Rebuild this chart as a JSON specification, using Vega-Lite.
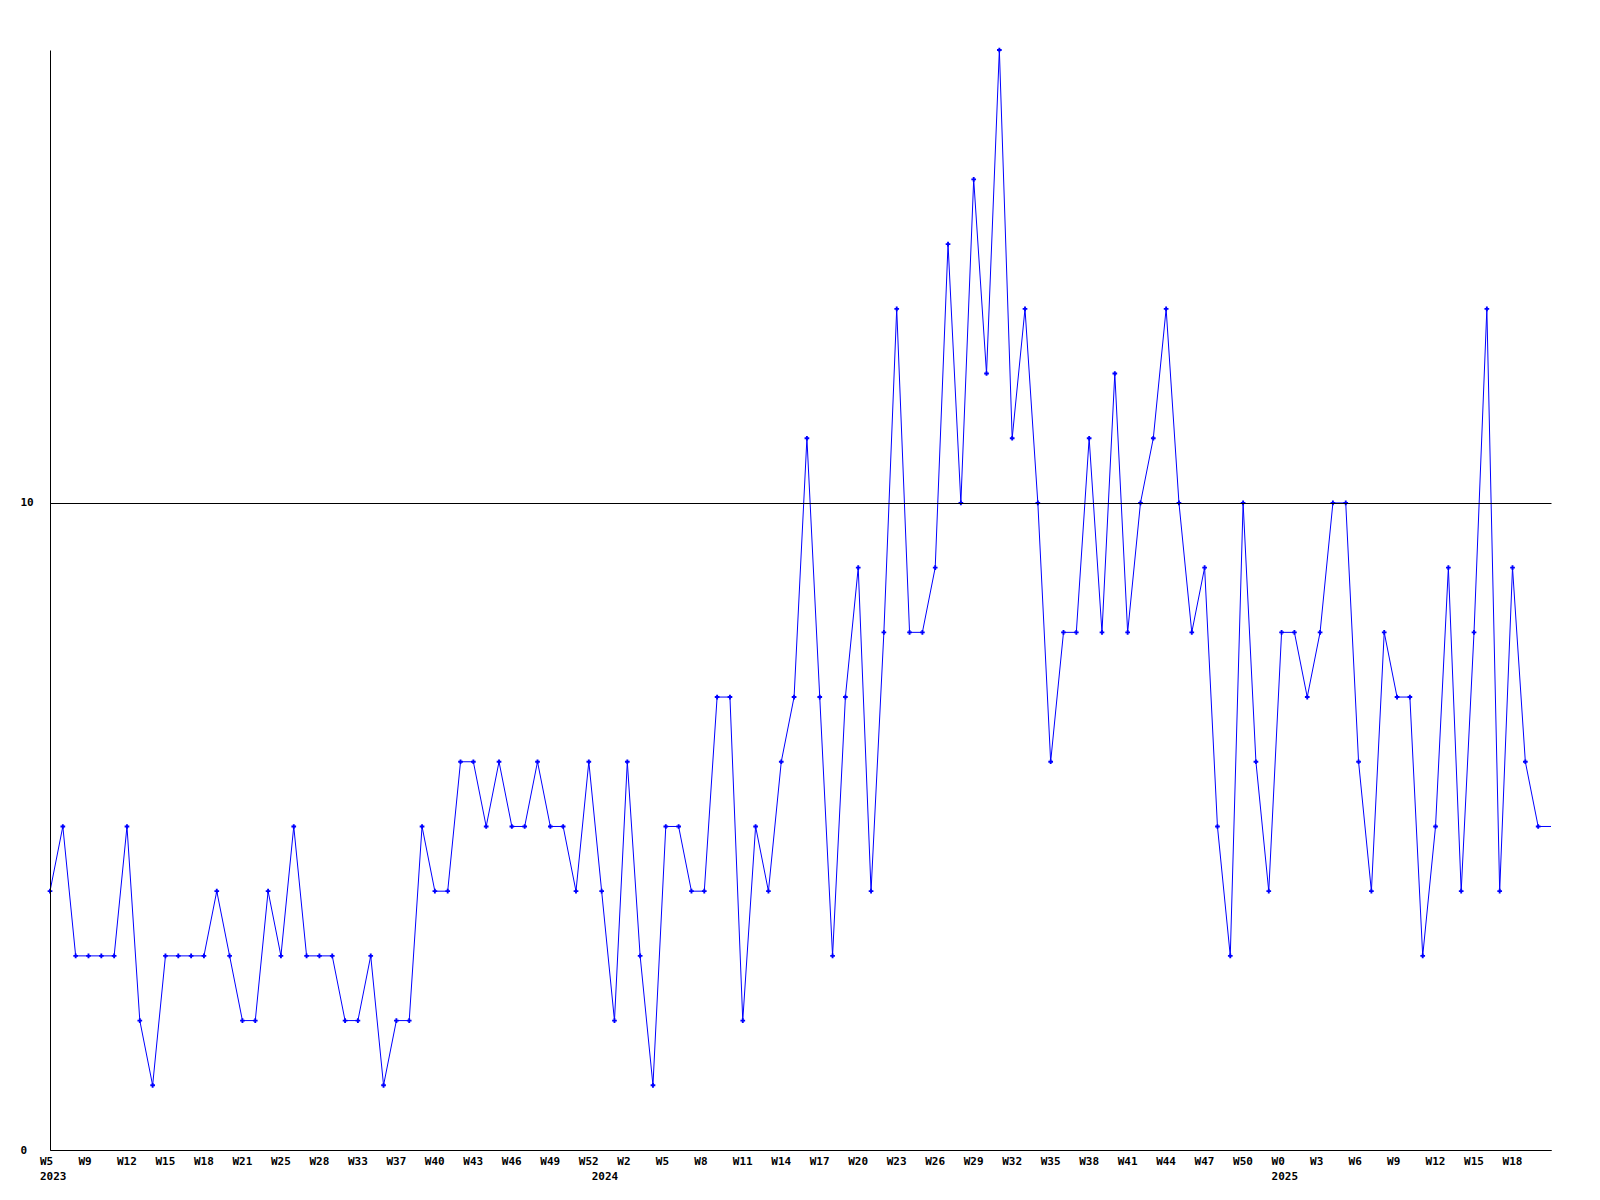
{
  "$schema": "https://vega.github.io/schema/vega-lite/v6.json",
  "width": 1501,
  "height": 1100,
  "autosize": {"type": "none"},
  "padding": {"left": 50, "top": 50, "right": 49, "bottom": 50},
  "background": "white",
  "config": {
    "view": {"stroke": null},
    "axis": {"labelFont": "DejaVu Sans Mono", "labelFontWeight": "bold", "labelFontSize": 11, "labelColor": "black"}
  },
  "data": {"values": [
    {"i":0,"v":4},{"i":1,"v":5},{"i":2,"v":3},{"i":3,"v":3},{"i":4,"v":3},{"i":5,"v":3},{"i":6,"v":5},{"i":7,"v":2},{"i":8,"v":1},{"i":9,"v":3},
    {"i":10,"v":3},{"i":11,"v":3},{"i":12,"v":3},{"i":13,"v":4},{"i":14,"v":3},{"i":15,"v":2},{"i":16,"v":2},{"i":17,"v":4},{"i":18,"v":3},{"i":19,"v":5},
    {"i":20,"v":3},{"i":21,"v":3},{"i":22,"v":3},{"i":23,"v":2},{"i":24,"v":2},{"i":25,"v":3},{"i":26,"v":1},{"i":27,"v":2},{"i":28,"v":2},{"i":29,"v":5},
    {"i":30,"v":4},{"i":31,"v":4},{"i":32,"v":6},{"i":33,"v":6},{"i":34,"v":5},{"i":35,"v":6},{"i":36,"v":5},{"i":37,"v":5},{"i":38,"v":6},{"i":39,"v":5},
    {"i":40,"v":5},{"i":41,"v":4},{"i":42,"v":6},{"i":43,"v":4},{"i":44,"v":2},{"i":45,"v":6},{"i":46,"v":3},{"i":47,"v":1},{"i":48,"v":5},{"i":49,"v":5},
    {"i":50,"v":4},{"i":51,"v":4},{"i":52,"v":7},{"i":53,"v":7},{"i":54,"v":2},{"i":55,"v":5},{"i":56,"v":4},{"i":57,"v":6},{"i":58,"v":7},{"i":59,"v":11},
    {"i":60,"v":7},{"i":61,"v":3},{"i":62,"v":7},{"i":63,"v":9},{"i":64,"v":4},{"i":65,"v":8},{"i":66,"v":13},{"i":67,"v":8},{"i":68,"v":8},{"i":69,"v":9},
    {"i":70,"v":14},{"i":71,"v":10},{"i":72,"v":15},{"i":73,"v":12},{"i":74,"v":17},{"i":75,"v":11},{"i":76,"v":13},{"i":77,"v":10},{"i":78,"v":6},{"i":79,"v":8},
    {"i":80,"v":8},{"i":81,"v":11},{"i":82,"v":8},{"i":83,"v":12},{"i":84,"v":8},{"i":85,"v":10},{"i":86,"v":11},{"i":87,"v":13},{"i":88,"v":10},{"i":89,"v":8},
    {"i":90,"v":9},{"i":91,"v":5},{"i":92,"v":3},{"i":93,"v":10},{"i":94,"v":6},{"i":95,"v":4},{"i":96,"v":8},{"i":97,"v":8},{"i":98,"v":7},{"i":99,"v":8},
    {"i":100,"v":10},{"i":101,"v":10},{"i":102,"v":6},{"i":103,"v":4},{"i":104,"v":8},{"i":105,"v":7},{"i":106,"v":7},{"i":107,"v":3},{"i":108,"v":5},{"i":109,"v":9},
    {"i":110,"v":4},{"i":111,"v":8},{"i":112,"v":13},{"i":113,"v":4},{"i":114,"v":9},{"i":115,"v":6},{"i":116,"v":5},{"i":117,"v":5}
  ]},
  "layer": [
    {
      "mark": {"type": "line", "color": "#0000ff", "strokeWidth": 1},
      "encoding": {
        "x": {
          "field": "i", "type": "quantitative",
          "scale": {"domain": [0, 117], "nice": false, "zero": false},
          "axis": {
            "title": null, "orient": "bottom",
            "values": [0,3,6,9,12,15,18,21,24,27,30,33,36,39,42,45,48,51,54,57,60,63,66,69,72,75,78,81,84,87,90,93,96,99,102,105,108,111,114],
            "labelExpr": "['W5','W9','W12','W15','W18','W21','W25','W28','W33','W37','W40','W43','W46','W49','W52','W2','W5','W8','W11','W14','W17','W20','W23','W26','W29','W32','W35','W38','W41','W44','W47','W50','W0','W3','W6','W9','W12','W15','W18'][round(datum.value/3)]",
            "grid": false, "ticks": false, "tickSize": 0,
            "domain": true, "domainColor": "black", "domainWidth": 1,
            "labelAlign": "left", "labelBaseline": "top", "labelPadding": 5, "labelOffset": -10.5,
            "labelFlush": false, "labelOverlap": false
          }
        },
        "y": {
          "field": "v", "type": "quantitative",
          "scale": {"domain": [0, 17], "nice": false},
          "axis": {
            "title": null, "values": [0, 10], "format": "d",
            "grid": true, "gridColor": "black", "gridWidth": 1, "gridOpacity": 1,
            "ticks": false, "tickSize": 0,
            "domain": true, "domainColor": "black", "domainWidth": 1,
            "labelAlign": "left", "labelBaseline": "middle", "labelPadding": 30,
            "zindex": 1
          }
        }
      }
    },
    {
      "transform": [{"filter": "datum.i < 117"}],
      "mark": {"type": "point", "shape": "cross", "filled": true, "color": "#0000ff", "size": 22, "opacity": 1},
      "encoding": {
        "x": {
          "field": "i", "type": "quantitative",
          "axis": {
            "title": null, "orient": "bottom",
            "values": [0, 43, 96],
            "labelExpr": "datum.value == 0 ? '2023' : (datum.value == 43 ? '2024' : '2025')",
            "grid": false, "ticks": false, "tickSize": 0, "domain": false,
            "labelAlign": "left", "labelBaseline": "top", "labelPadding": 20, "labelOffset": -10.5,
            "labelFlush": false, "labelOverlap": false
          }
        },
        "y": {"field": "v", "type": "quantitative"}
      }
    }
  ],
  "resolve": {"axis": {"x": "independent"}}
}
